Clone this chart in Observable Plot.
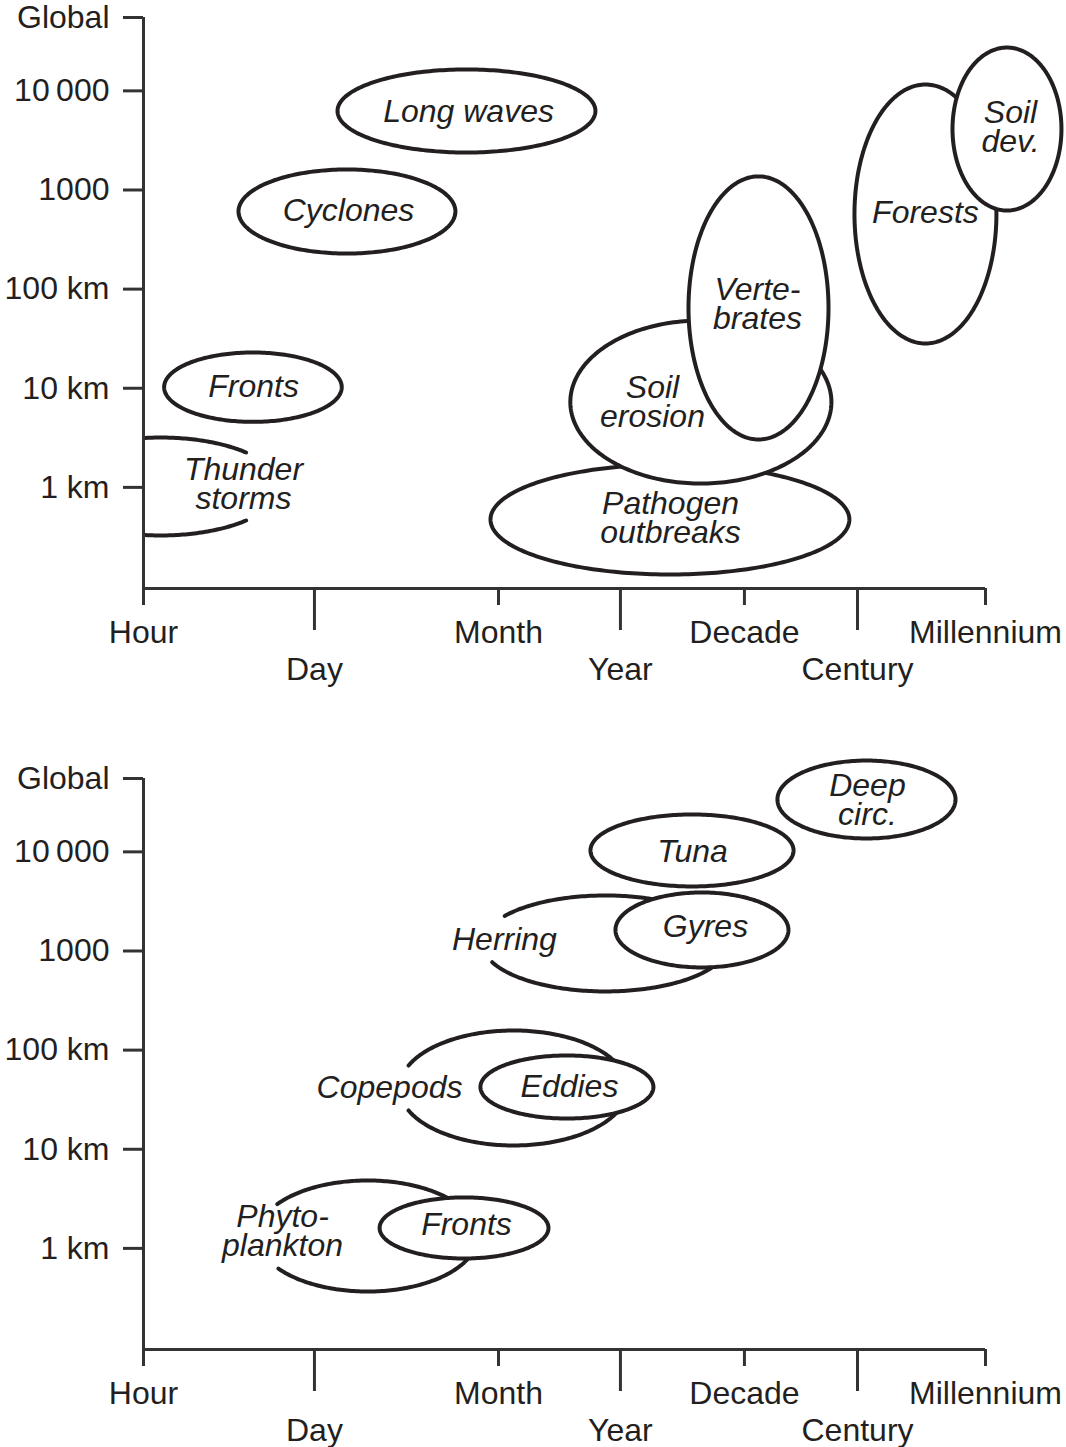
<!DOCTYPE html>
<html>
<head>
<meta charset="utf-8">
<script src="https://cdn.jsdelivr.net/npm/d3@7"></script>
<script src="https://cdn.jsdelivr.net/npm/@observablehq/plot@0.6"></script>
<style>
  html, body { margin: 0; padding: 0; background: #fff; }
  svg { display: block; }
</style>
</head>
<body>
<div id="chart"></div>
<script>
// ---------- Axes (x: log10 hours, y: log10 km) ----------
const timeTicks  = [0, 1.409, 2.926, 3.931, 4.953, 5.885, 6.94];
const timeLabels = ["Hour", "Day", "Month", "Year", "Decade", "Century", "Millennium"];
const timeRow    = [0, 1, 0, 1, 0, 1, 0];           // 0 = upper label row, 1 = lower row
const spaceTicks  = [0, 1, 2, 3, 4, 4.74];
const spaceLabels = ["1 km", "10 km", "100 km", "1000", "10\u2009000", "Global"];
const xDomain = [0, 6.94];
const yDomain = [-1.02, 4.74];

// ---------- Panel 1: atmosphere & land ----------
const landNames  = ["Long waves", "Cyclones", "Fronts", "Thunderstorms", "Pathogen outbreaks", "Soil erosion", "Vertebrates", "Forests", "Soil development"];
const landLabels = ["Long waves", "Cyclones", "Fronts", "Thunder\nstorms", "Pathogen\noutbreaks", "Soil\nerosion", "Verte-\nbrates", "Forests", "Soil\ndev."];
const landCX = [2.662, 1.677, 0.902, 0.140, 4.339, 4.594, 5.069, 6.445, 7.117];
const landCY = [3.797, 2.783, 1.011, 0.009, -0.324, 0.861, 1.810, 2.758, 3.615];
const landRX = [1.063, 0.894, 0.732, 0.981, 1.479, 1.076, 0.577, 0.585, 0.449];
const landRY = [0.419, 0.424, 0.350, 0.494, 0.555, 0.822, 1.327, 1.306, 0.822];
const landGapFrom = [null, null, null, -44, null, null, null, null, null];
const landGapTo   = [null, null, null,  44, null, null, null, null, null];
const landLabelX = [2.679, 1.690, 0.907, 0.824, 4.344, 4.195, 5.061, 6.445, 7.146];
const landLabelY = [3.782, 2.783, 1.008, 0.019, -0.324, 0.846, 1.835, 2.763, 3.620];

// ---------- Panel 2: ocean ----------
const oceanNames  = ["Deep circulation", "Tuna", "Herring", "Gyres", "Copepods", "Eddies", "Phytoplankton", "Fronts"];
const oceanLabels = ["Deep\ncirc.", "Tuna", "Herring", "Gyres", "Copepods", "Eddies", "Phyto-\nplankton", "Fronts"];
const oceanCX = [5.959, 4.521, 3.808, 4.603, 3.050, 3.490, 1.846, 2.642];
const oceanCY = [4.528, 4.014, 3.076, 3.212, 1.618, 1.628, 0.125, 0.206];
const oceanRX = [0.734, 0.837, 1.014, 0.713, 0.940, 0.713, 0.907, 0.696];
const oceanRY = [0.393, 0.363, 0.484, 0.378, 0.580, 0.318, 0.560, 0.308];
const oceanGapFrom = [null, null, 145, null, 157, null, 145, null];
const oceanGapTo   = [null, null, 203, null, 203, null, 216, null];
const oceanLabelX = [5.967, 4.525, 2.975, 4.632, 2.028, 3.511, 1.146, 2.662];
const oceanLabelY = [4.508, 3.994, 3.106, 3.237, 1.613, 1.623, 0.160, 0.231];

// ---------- helpers ----------
const ink = "#231f20";
const axisInk = "#333333";
const fontFamily = "'Liberation Sans', Arial, Helvetica, sans-serif";

function ellipse(name, cx, cy, rx, ry, gapFrom, gapTo) {
  const a0 = gapTo == null ? 0 : gapTo;
  const a1 = gapFrom == null ? 360 : gapFrom + 360;
  const n = 240;
  const pts = [];
  for (let k = 0; k <= n; k++) {
    const a = (a0 + (a1 - a0) * k / n) * Math.PI / 180;
    pts.push({name, x: cx + rx * Math.cos(a), y: cy + ry * Math.sin(a)});
  }
  return pts;
}

function panel(names, labels, CX, CY, RX, RY, GF, GT, LX, LY, height, marginBottom) {
  const ellipseMarks = names.map((name, i) => {
    const pts = ellipse(name, CX[i], CY[i], RX[i], RY[i], GF[i], GT[i]);
    const open = GF[i] != null;
    return Plot.line(pts, {
      x: "x", y: "y",
      stroke: ink, strokeWidth: 4,
      fill: open ? "none" : "white",
      clip: CX[i] - RX[i] < xDomain[0]
    });
  });
  const labelData = labels.map((t, i) => ({text: t, x: LX[i], y: LY[i]}));
  const upper = timeTicks.filter((t, i) => timeRow[i] === 0);
  const lower = timeTicks.filter((t, i) => timeRow[i] === 1);
  const timeFmt = new Map(timeTicks.map((t, i) => [t, timeLabels[i]]));
  const spaceFmt = new Map(spaceTicks.map((t, i) => [t, spaceLabels[i]]));
  return Plot.plot({
    width: 1066,
    height,
    marginLeft: 143,
    marginRight: 81,
    marginTop: 17,
    marginBottom,
    x: {domain: xDomain, label: null},
    y: {domain: yDomain, label: null},
    style: {fontFamily, color: ink, background: "white", overflow: "visible"},
    marks: [
      ...ellipseMarks,
      Plot.text(labelData, {
        x: "x", y: "y", text: "text",
        fontSize: 32, fontStyle: "italic", lineHeight: 0.9, fill: ink
      }),
      Plot.ruleX([xDomain[0]], {stroke: axisInk, strokeWidth: 3}),
      Plot.ruleY([yDomain[0]], {stroke: axisInk, strokeWidth: 3}),
      Plot.axisY(spaceTicks, {
        tickSize: 20, tickPadding: 14, fontSize: 32, strokeWidth: 3, stroke: axisInk,
        tickFormat: d => spaceFmt.get(d), label: null
      }),
      Plot.axisX(upper, {
        tickSize: 17, tickPadding: 15, fontSize: 32, strokeWidth: 3, stroke: axisInk,
        tickFormat: d => timeFmt.get(d), label: null
      }),
      Plot.axisX(lower, {
        tickSize: 42, tickPadding: 27, fontSize: 32, strokeWidth: 3, stroke: axisInk,
        tickFormat: d => timeFmt.get(d), label: null
      })
    ]
  });
}

const chart = document.getElementById("chart");
chart.append(panel(landNames, landLabels, landCX, landCY, landRX, landRY, landGapFrom, landGapTo, landLabelX, landLabelY, 761, 173));
chart.append(panel(oceanNames, oceanLabels, oceanCX, oceanCY, oceanRX, oceanRY, oceanGapFrom, oceanGapTo, oceanLabelX, oceanLabelY, 686, 98));
</script>
</body>
</html>
